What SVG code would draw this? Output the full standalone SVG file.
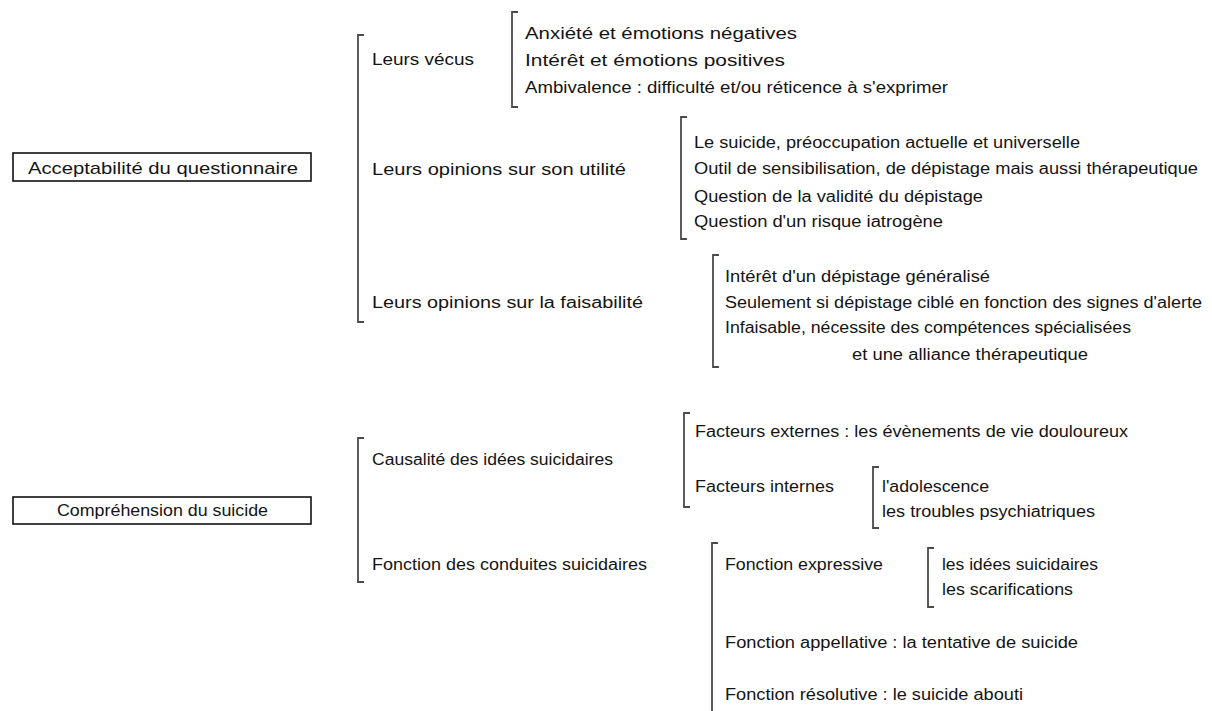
<svg xmlns="http://www.w3.org/2000/svg" width="1212" height="711" viewBox="0 0 1212 711">
<style>
text{font-family:"Liberation Sans",Arial,sans-serif;font-size:16px;fill:#141414}
.box{fill:#fff;stroke:#111;stroke-width:1.6}
.br{fill:none;stroke:#4a4a4a;stroke-width:1.8}
</style>
<rect width="1212" height="711" fill="#fff"/>
<g id="connectors">
<path class="br" d="M364,35H358V322H364"/>
<path class="br" d="M518,12H512V107H518"/>
<path class="br" d="M687,117H681V239H687"/>
<path class="br" d="M719,255H713V367H719"/>
<path class="br" d="M364,438H358V582H364"/>
<path class="br" d="M690,413H684V507H690"/>
<path class="br" d="M879,467H873V528H879"/>
<path class="br" d="M718,543H712V711"/>
<path class="br" d="M934,548H928V607H934"/>
</g>
<g id="n-acceptabilite">
<rect class="box" x="13" y="153" width="298" height="28"/>
<text x="28" y="174" style="font-size:17px" textLength="270" lengthAdjust="spacingAndGlyphs">Acceptabilité du questionnaire</text>
</g>
<g id="n-vecus">
<text x="372" y="65" textLength="102" lengthAdjust="spacingAndGlyphs">Leurs vécus</text>
</g>
<g id="n-vecus-items">
<text x="525" y="39" textLength="272" lengthAdjust="spacingAndGlyphs">Anxiété et émotions négatives</text>
<text x="525" y="66" textLength="260" lengthAdjust="spacingAndGlyphs">Intérêt et émotions positives</text>
<text x="525" y="93" textLength="423" lengthAdjust="spacingAndGlyphs">Ambivalence : difficulté et/ou réticence à s'exprimer</text>
</g>
<g id="n-utilite">
<text x="372" y="175" textLength="254" lengthAdjust="spacingAndGlyphs">Leurs opinions sur son utilité</text>
</g>
<g id="n-utilite-items">
<text x="694" y="148" textLength="386" lengthAdjust="spacingAndGlyphs">Le suicide, préoccupation actuelle et universelle</text>
<text x="694" y="174" textLength="504" lengthAdjust="spacingAndGlyphs">Outil de sensibilisation, de dépistage mais aussi thérapeutique</text>
<text x="694" y="202" textLength="289" lengthAdjust="spacingAndGlyphs">Question de la validité du dépistage</text>
<text x="694" y="227" textLength="249" lengthAdjust="spacingAndGlyphs">Question d'un risque iatrogène</text>
</g>
<g id="n-faisabilite">
<text x="372" y="308" textLength="271" lengthAdjust="spacingAndGlyphs">Leurs opinions sur la faisabilité</text>
</g>
<g id="n-faisabilite-items">
<text x="725" y="282" textLength="265" lengthAdjust="spacingAndGlyphs">Intérêt d'un dépistage généralisé</text>
<text x="725" y="308" textLength="477" lengthAdjust="spacingAndGlyphs">Seulement si dépistage ciblé en fonction des signes d'alerte</text>
<text x="725" y="333" textLength="406" lengthAdjust="spacingAndGlyphs">Infaisable, nécessite des compétences spécialisées</text>
<text x="852" y="360" textLength="236" lengthAdjust="spacingAndGlyphs">et une alliance thérapeutique</text>
</g>
<g id="n-comprehension">
<rect class="box" x="13" y="497" width="298" height="27"/>
<text x="57" y="516" textLength="211" lengthAdjust="spacingAndGlyphs">Compréhension du suicide</text>
</g>
<g id="n-causalite">
<text x="372" y="465" textLength="241" lengthAdjust="spacingAndGlyphs">Causalité des idées suicidaires</text>
</g>
<g id="n-externes">
<text x="695" y="437" textLength="433" lengthAdjust="spacingAndGlyphs">Facteurs externes : les évènements de vie douloureux</text>
</g>
<g id="n-internes">
<text x="695" y="492" textLength="139" lengthAdjust="spacingAndGlyphs">Facteurs internes</text>
</g>
<g id="n-internes-items">
<text x="882" y="492" textLength="107" lengthAdjust="spacingAndGlyphs">l'adolescence</text>
<text x="882" y="517" textLength="213" lengthAdjust="spacingAndGlyphs">les troubles psychiatriques</text>
</g>
<g id="n-fonction">
<text x="372" y="570" textLength="275" lengthAdjust="spacingAndGlyphs">Fonction des conduites suicidaires</text>
</g>
<g id="n-expressive">
<text x="725" y="570" textLength="158" lengthAdjust="spacingAndGlyphs">Fonction expressive</text>
</g>
<g id="n-expressive-items">
<text x="942" y="570" textLength="156" lengthAdjust="spacingAndGlyphs">les idées suicidaires</text>
<text x="942" y="595" textLength="131" lengthAdjust="spacingAndGlyphs">les scarifications</text>
</g>
<g id="n-appellative">
<text x="725" y="648" textLength="353" lengthAdjust="spacingAndGlyphs">Fonction appellative : la tentative de suicide</text>
</g>
<g id="n-resolutive">
<text x="725" y="700" textLength="298" lengthAdjust="spacingAndGlyphs">Fonction résolutive : le suicide abouti</text>
</g>
</svg>
